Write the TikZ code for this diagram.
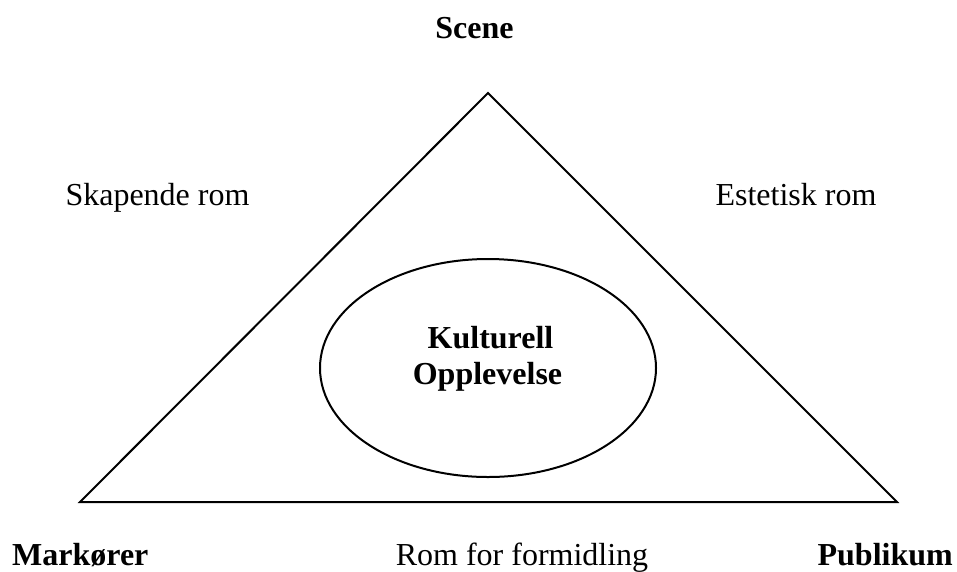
\documentclass[tikz,border=0pt]{standalone}
\usepackage{fontspec}
\setmainfont{Liberation Serif}
\begin{document}
\begin{tikzpicture}[x=1pt,y=-1pt,
  lbl/.style={inner sep=0pt,anchor=base,font=\fontsize{32}{36}\selectfont},
  blbl/.style={lbl,font=\fontsize{32}{36}\selectfont\bfseries},
  edge/.style={draw=black,line width=2pt,line join=miter}]
\useasboundingbox (0,0) rectangle (957,571);
\coordinate (top) at (488,93);
\coordinate (bl) at (80,502);
\coordinate (br) at (897,502);
\draw[edge] (top) -- (br) -- (bl) -- cycle;
\draw[line width=2pt] (488,368) ellipse (168 and 109);
\node[blbl] (scene) at (474.5,38) {Scene};
\node[lbl] (skap) at (157.5,205) {Skapende rom};
\node[lbl] (estet) at (796,205) {Estetisk rom};
\node[blbl] (kult1) at (490.5,348) {Kulturell};
\node[blbl] (kult2) at (487.5,384) {Opplevelse};
\node[blbl,anchor=base west] (mark) at (12,565) {Markører};
\node[lbl] (rom) at (522,565) {Rom for formidling};
\node[blbl,anchor=base east] (pub) at (953,565) {Publikum};
\end{tikzpicture}
\end{document}
